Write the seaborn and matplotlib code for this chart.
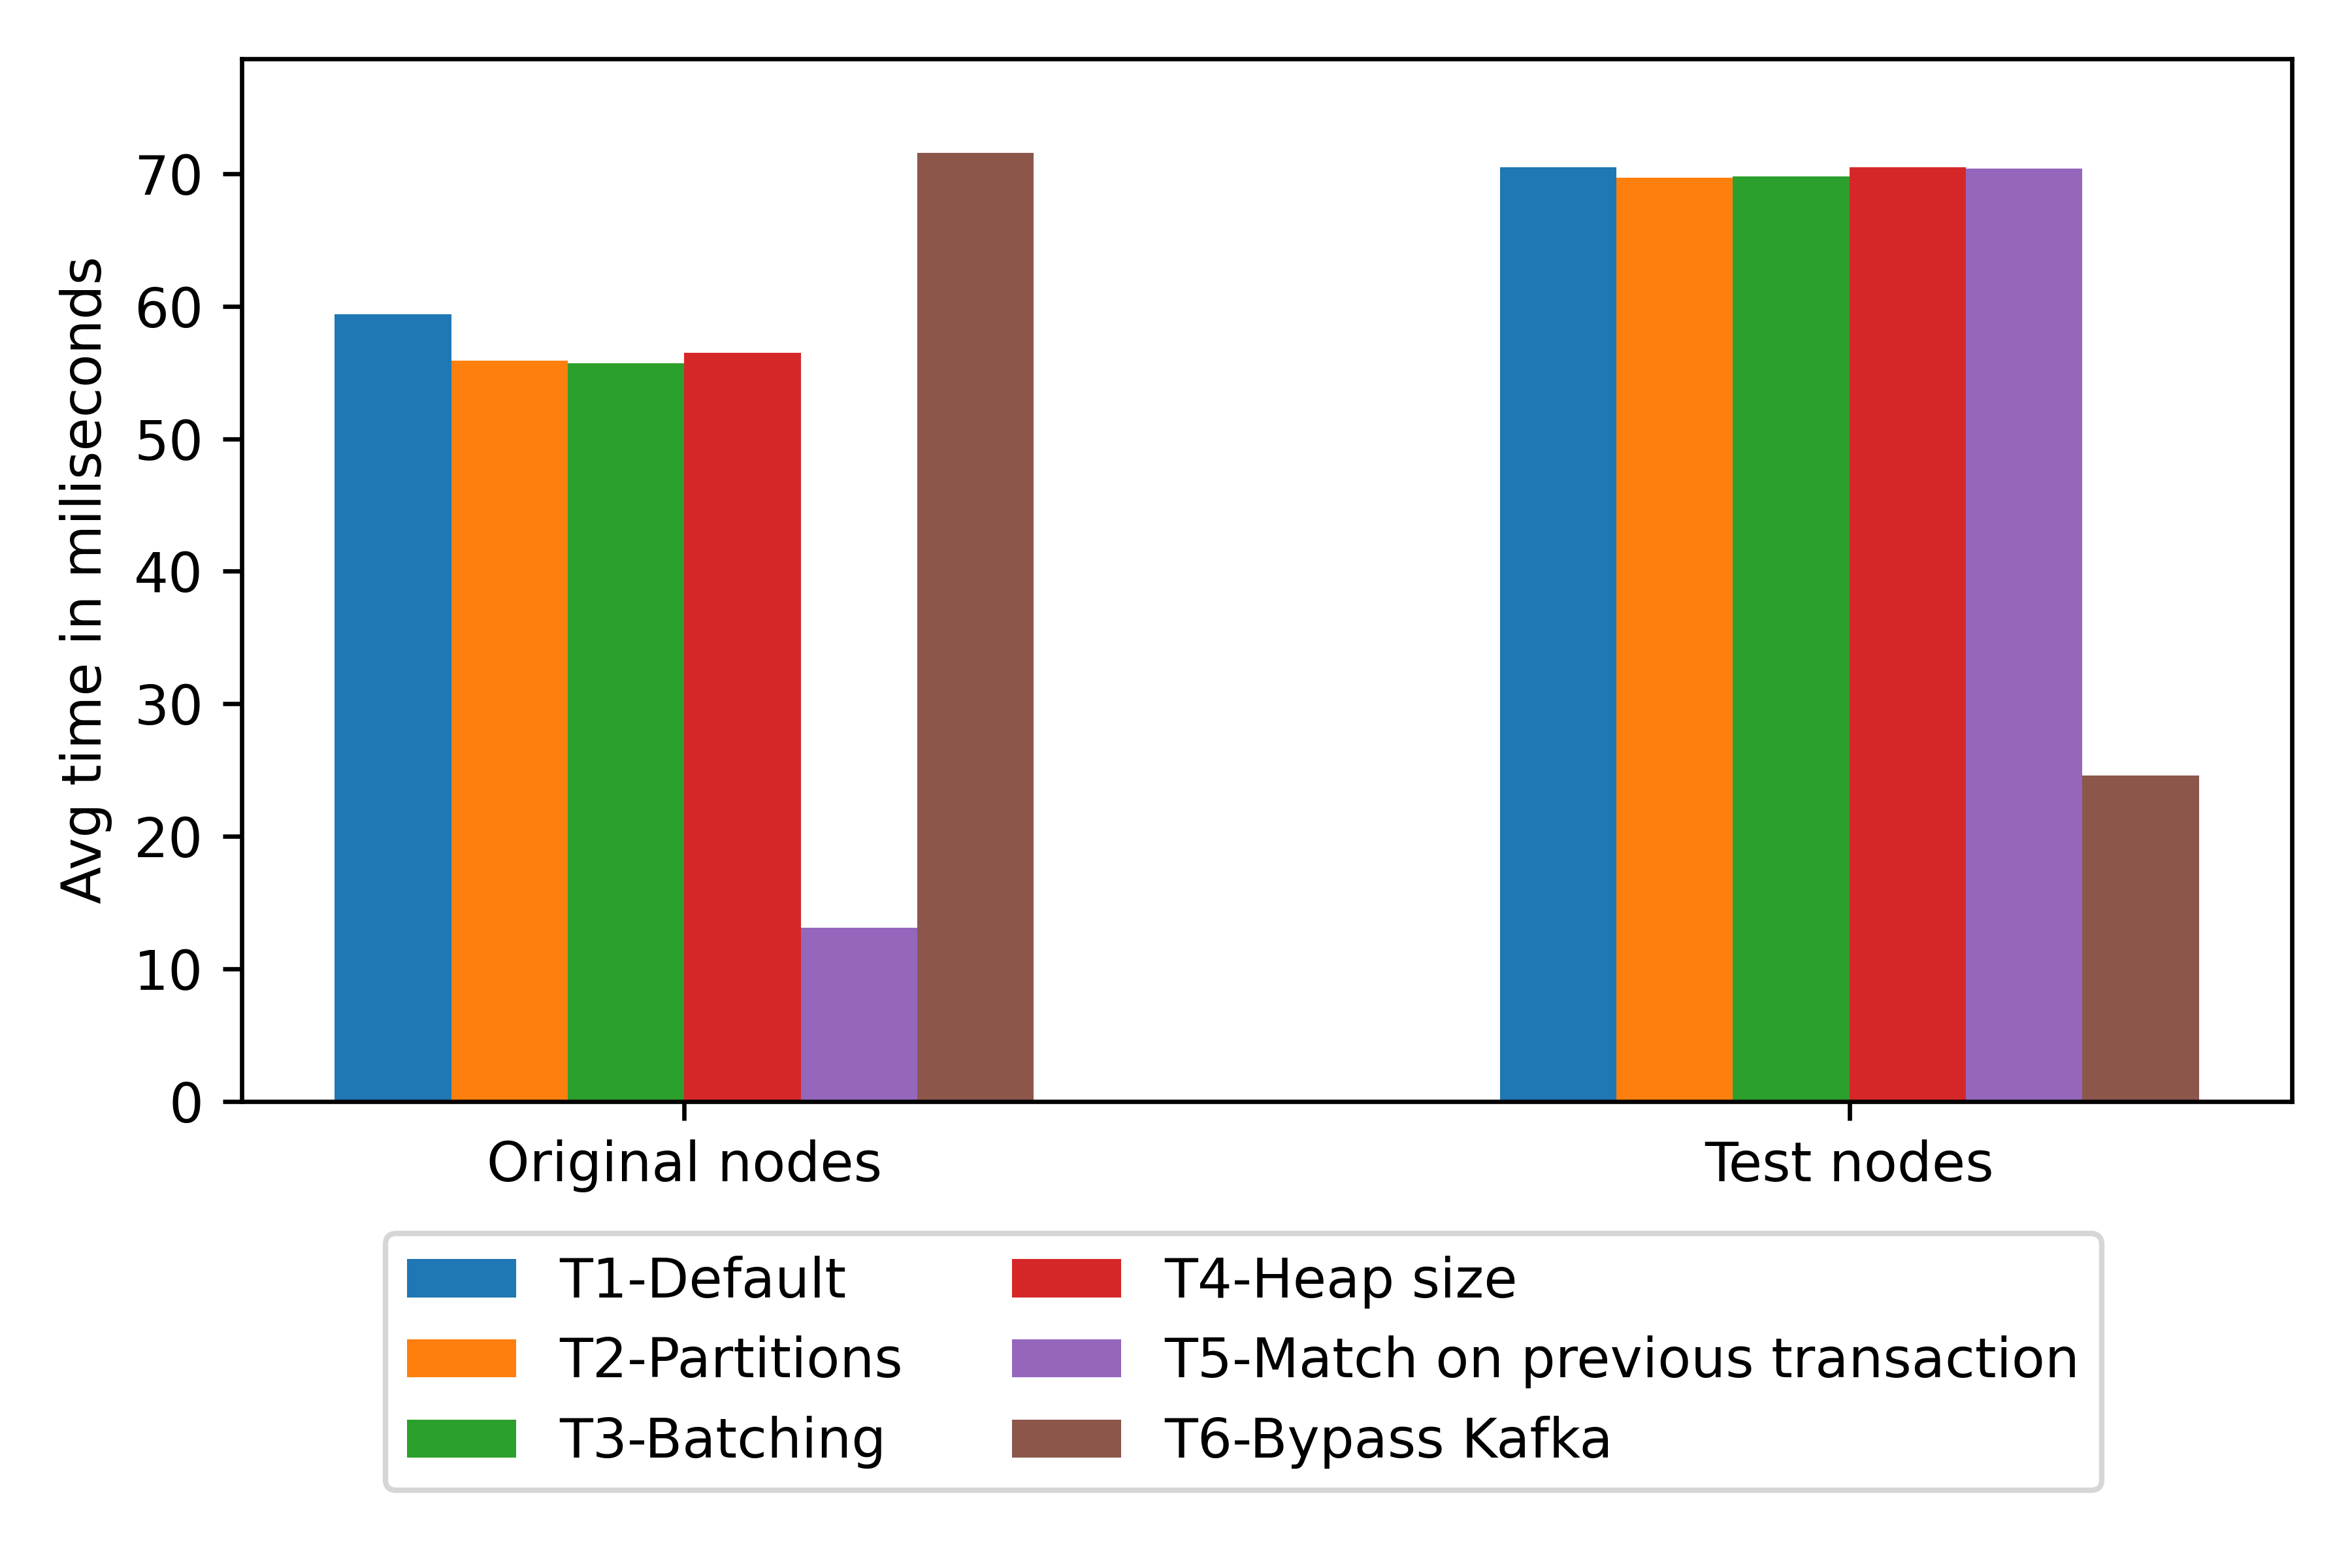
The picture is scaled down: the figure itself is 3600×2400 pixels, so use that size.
import pandas
import seaborn
import matplotlib
matplotlib.use("Agg")
import matplotlib.pyplot as plt

groups = ["Original nodes", "Test nodes"]
configs = ["T1-Default", "T2-Partitions", "T3-Batching", "T4-Heap size",
           "T5-Match on previous transaction", "T6-Bypass Kafka"]
original_times = [59.4, 55.9, 55.7, 56.5, 13.1, 71.6]
test_times = [70.5, 69.7, 69.8, 70.5, 70.4, 24.6]
colors = ["#1f77b4", "#ff7f0e", "#2ca02c", "#d62728", "#9467bd", "#8c564b"]

rows = []
for c, v in zip(configs, original_times):
    rows.append({"group": groups[0], "config": c, "time": v})
for c, v in zip(configs, test_times):
    rows.append({"group": groups[1], "config": c, "time": v})
df = pandas.DataFrame(rows)

fig = plt.figure(figsize=(6, 4), dpi=600)
ax = fig.add_axes([0.1027, 0.2976, 0.8718, 0.6651])
seaborn.barplot(data=df, x="group", y="time", hue="config", hue_order=configs,
                palette=colors, saturation=1, width=0.6, errorbar=None, ax=ax)
ax.set_xlim(-0.38, 1.38)
ax.set_ylim(0, 78.7)
ax.set_xlabel("")
ax.set_ylabel("Avg time in miliseconds")

handles, labels = ax.get_legend_handles_labels()
ax.get_legend().remove()
fig.legend(handles, labels, loc="upper center", bbox_to_anchor=(0.5287, 0.2306), ncol=2)

fig.savefig("out.png", dpi=600)
